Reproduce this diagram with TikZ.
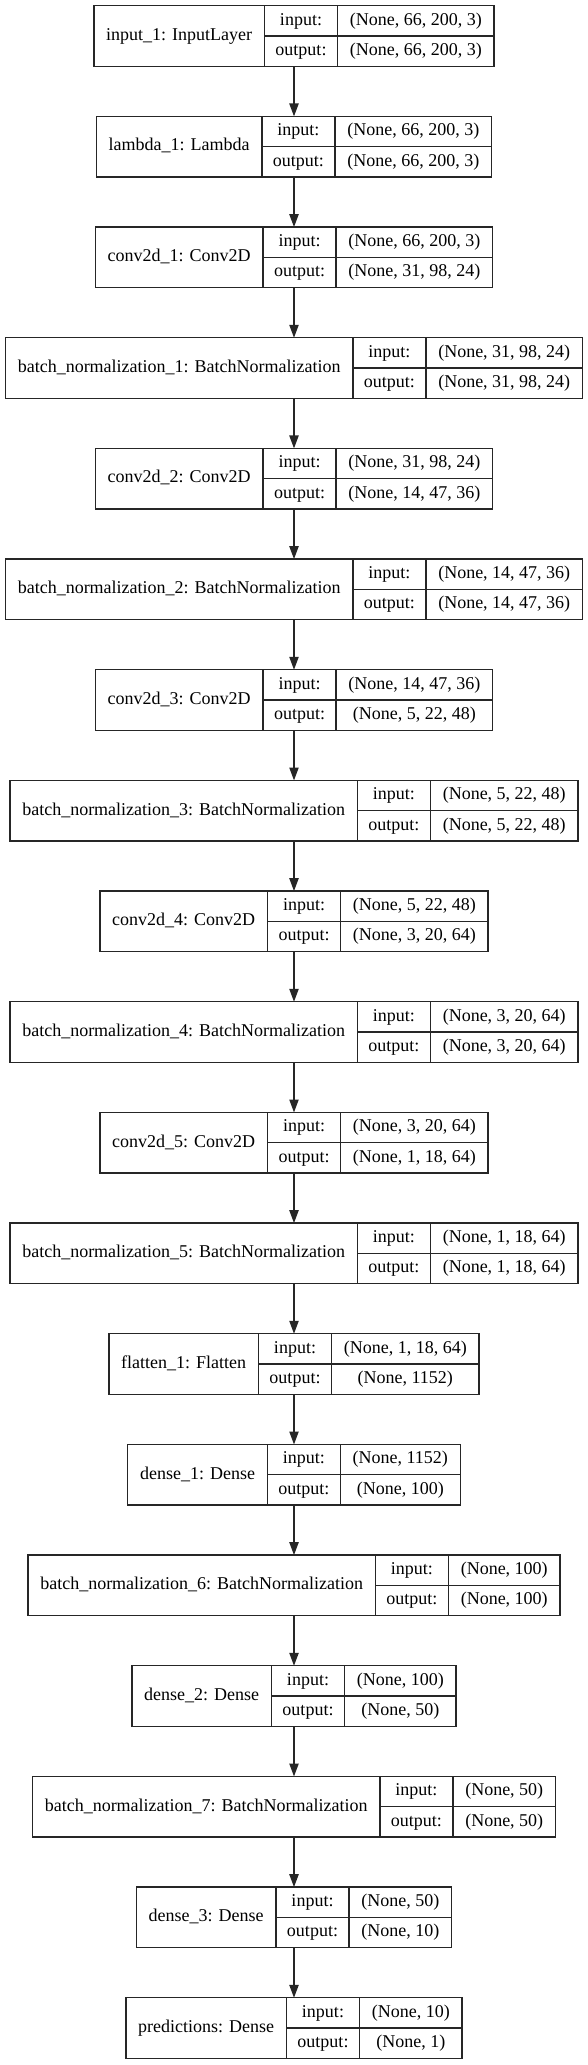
\documentclass[tikz,border=0pt]{standalone}
\usepackage{fontspec}
\setmainfont{Liberation Serif}
\usetikzlibrary{positioning,fit,arrows.meta}

\newlength{\lblwd}
\newlength{\valwd}
\newsavebox{\layersbox}
\newcommand{\layerfont}{\fontsize{18}{21}\selectfont}
% one layer box: name, row, label, input shape, output shape
\newcommand{\layerbox}[5]{%
  \pgfinterruptpicture
    \sbox{\layersbox}{\layerfont #3}\global\lblwd=\wd\layersbox
    \sbox{\layersbox}{\layerfont #4}\global\valwd=\wd\layersbox
    \sbox{\layersbox}{\layerfont #5}%
    \ifdim\wd\layersbox>\valwd \global\valwd=\wd\layersbox\fi
  \endpgfinterruptpicture
  \pgfmathsetmacro{\wa}{\lblwd+24.6}%
  \pgfmathsetmacro{\wc}{\valwd+24.6}%
  \pgfmathsetmacro{\xl}{294-(\wa+73+\wc)/2}%
  \pgfmathsetmacro{\yt}{-5.7-(#2-1)*110.67}%
  \node[cell,minimum width=\wa pt,minimum height=60.6pt,anchor=north west] (#1-name) at (\xl pt,\yt pt) {#3};
  \node[cell,minimum width=73pt,anchor=north west] (#1-inl) at (#1-name.north east) {input:};
  \node[cell,minimum width=73pt,below=0pt of #1-inl] (#1-outl) {output:};
  \node[cell,minimum width=\wc pt,right=0pt of #1-inl] (#1-inv) {#4};
  \node[cell,minimum width=\wc pt,right=0pt of #1-outl] (#1-outv) {#5};
  \node[fit=(#1-name)(#1-outv),inner sep=0pt,outer sep=0pt] (#1) {};
}

\begin{document}
\begin{tikzpicture}[
    cell/.style={draw=black!85,line width=1.3pt,inner sep=0pt,outer sep=0pt,
      minimum height=30.3pt,font=\layerfont,text height=12.6pt,text depth=4pt},
    edge/.style={draw=black!85,line width=1.3pt,-{Triangle[length=12.9pt,width=9.3pt]}}]
  \useasboundingbox (0,0) rectangle (588pt,-2065pt);

  %layers
  \layerbox{input1}{1}{input\_1: InputLayer}{(None, 66, 200, 3)}{(None, 66, 200, 3)}
  \layerbox{lambda1}{2}{lambda\_1: Lambda}{(None, 66, 200, 3)}{(None, 66, 200, 3)}
  \layerbox{conv1}{3}{conv2d\_1: Conv2D}{(None, 66, 200, 3)}{(None, 31, 98, 24)}
  \layerbox{bn1}{4}{batch\_normalization\_1: BatchNormalization}{(None, 31, 98, 24)}{(None, 31, 98, 24)}
  \layerbox{conv2}{5}{conv2d\_2: Conv2D}{(None, 31, 98, 24)}{(None, 14, 47, 36)}
  \layerbox{bn2}{6}{batch\_normalization\_2: BatchNormalization}{(None, 14, 47, 36)}{(None, 14, 47, 36)}
  \layerbox{conv3}{7}{conv2d\_3: Conv2D}{(None, 14, 47, 36)}{(None, 5, 22, 48)}
  \layerbox{bn3}{8}{batch\_normalization\_3: BatchNormalization}{(None, 5, 22, 48)}{(None, 5, 22, 48)}
  \layerbox{conv4}{9}{conv2d\_4: Conv2D}{(None, 5, 22, 48)}{(None, 3, 20, 64)}
  \layerbox{bn4}{10}{batch\_normalization\_4: BatchNormalization}{(None, 3, 20, 64)}{(None, 3, 20, 64)}
  \layerbox{conv5}{11}{conv2d\_5: Conv2D}{(None, 3, 20, 64)}{(None, 1, 18, 64)}
  \layerbox{bn5}{12}{batch\_normalization\_5: BatchNormalization}{(None, 1, 18, 64)}{(None, 1, 18, 64)}
  \layerbox{flatten1}{13}{flatten\_1: Flatten}{(None, 1, 18, 64)}{(None, 1152)}
  \layerbox{dense1}{14}{dense\_1: Dense}{(None, 1152)}{(None, 100)}
  \layerbox{bn6}{15}{batch\_normalization\_6: BatchNormalization}{(None, 100)}{(None, 100)}
  \layerbox{dense2}{16}{dense\_2: Dense}{(None, 100)}{(None, 50)}
  \layerbox{bn7}{17}{batch\_normalization\_7: BatchNormalization}{(None, 50)}{(None, 50)}
  \layerbox{dense3}{18}{dense\_3: Dense}{(None, 50)}{(None, 10)}
  \layerbox{pred}{19}{predictions: Dense}{(None, 10)}{(None, 1)}

  %edges
  \draw[edge] (input1.south) -- (lambda1.north);
  \draw[edge] (lambda1.south) -- (conv1.north);
  \draw[edge] (conv1.south) -- (bn1.north);
  \draw[edge] (bn1.south) -- (conv2.north);
  \draw[edge] (conv2.south) -- (bn2.north);
  \draw[edge] (bn2.south) -- (conv3.north);
  \draw[edge] (conv3.south) -- (bn3.north);
  \draw[edge] (bn3.south) -- (conv4.north);
  \draw[edge] (conv4.south) -- (bn4.north);
  \draw[edge] (bn4.south) -- (conv5.north);
  \draw[edge] (conv5.south) -- (bn5.north);
  \draw[edge] (bn5.south) -- (flatten1.north);
  \draw[edge] (flatten1.south) -- (dense1.north);
  \draw[edge] (dense1.south) -- (bn6.north);
  \draw[edge] (bn6.south) -- (dense2.north);
  \draw[edge] (dense2.south) -- (bn7.north);
  \draw[edge] (bn7.south) -- (dense3.north);
  \draw[edge] (dense3.south) -- (pred.north);
\end{tikzpicture}
\end{document}
